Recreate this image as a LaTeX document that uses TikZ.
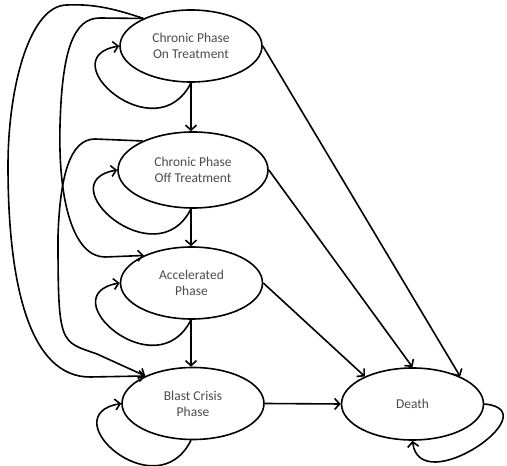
\documentclass[tikz,border=0pt]{standalone}
\usepackage{fontspec}
\setmainfont{Carlito}
\usetikzlibrary{shapes.geometric,arrows.meta}

\begin{document}
\begin{tikzpicture}[x=1pt,y=1pt,
	phase/.style={draw,ellipse,line width=1.6pt,minimum width=142pt,minimum height=72pt,inner sep=0pt,align=center,text=black!70,font=\fontsize{13.5}{16}\selectfont},
	flow/.style={line width=1.6pt,-{Straight Barb[length=5pt,width=11pt]}}]
	\useasboundingbox (0,0) rectangle (507,466);
	% draw states
	\node[phase] (cpon) at (191,420) {Chronic Phase\\On Treatment};
	\node[phase,minimum width=150pt,minimum height=76pt] (cpoff) at (193,296) {Chronic Phase\\Off Treatment};
	\node[phase] (acc) at (191.5,183) {Accelerated\\Phase};
	\node[phase] (bc) at (193,62.5) {Blast Crisis\\Phase};
	\node[phase] (death) at (412.5,62) {Death};
	% draw progression
	\draw[flow] (cpon.south) -- (cpoff.north -| cpon.south);
	\draw[flow] (cpoff.south -| cpon.south) -- (acc.north -| cpon.south);
	\draw[flow] (acc.south -| cpon.south) -- (bc.north -| cpon.south);
	% draw staying in state
	\foreach \s in {cpon,cpoff,acc,bc}
	\draw[flow] (\s.south -| cpon.south) .. controls +(-35,-70) and +(-70,-12) .. (\s.west);
	\draw[flow] (death.east) .. controls +(67,-6) and +(7,-60) .. (death.south);
	% draw jumps on the left
	\draw[flow] (cpon.150) .. controls (110,459) and (90,462) .. (67,461)
		.. controls (30,461) and (8,380) .. (8,300)
		.. controls (8,180) and (30,89) .. (90,89) -- (bc.150);
	\draw[flow] (cpon.150) -- (100,448) .. controls (75,448) and (62,420) .. (60,340)
		.. controls (58,260) and (75,209) .. (105,209) -- (acc.150);
	\draw[flow] (cpoff.150) -- (95,327) .. controls (70,327) and (60,290) .. (58,230)
		.. controls (58,120) and (60,125) .. (97,112) -- (bc.150);
	% draw death
	\draw[flow] (cpon.east) -- (death.30);
	\draw[flow] (cpoff.east) -- (death.north);
	\draw[flow] (acc.east) -- (death.150);
	\draw[flow] (bc.east) -- (death.west);
\end{tikzpicture}
\end{document}
